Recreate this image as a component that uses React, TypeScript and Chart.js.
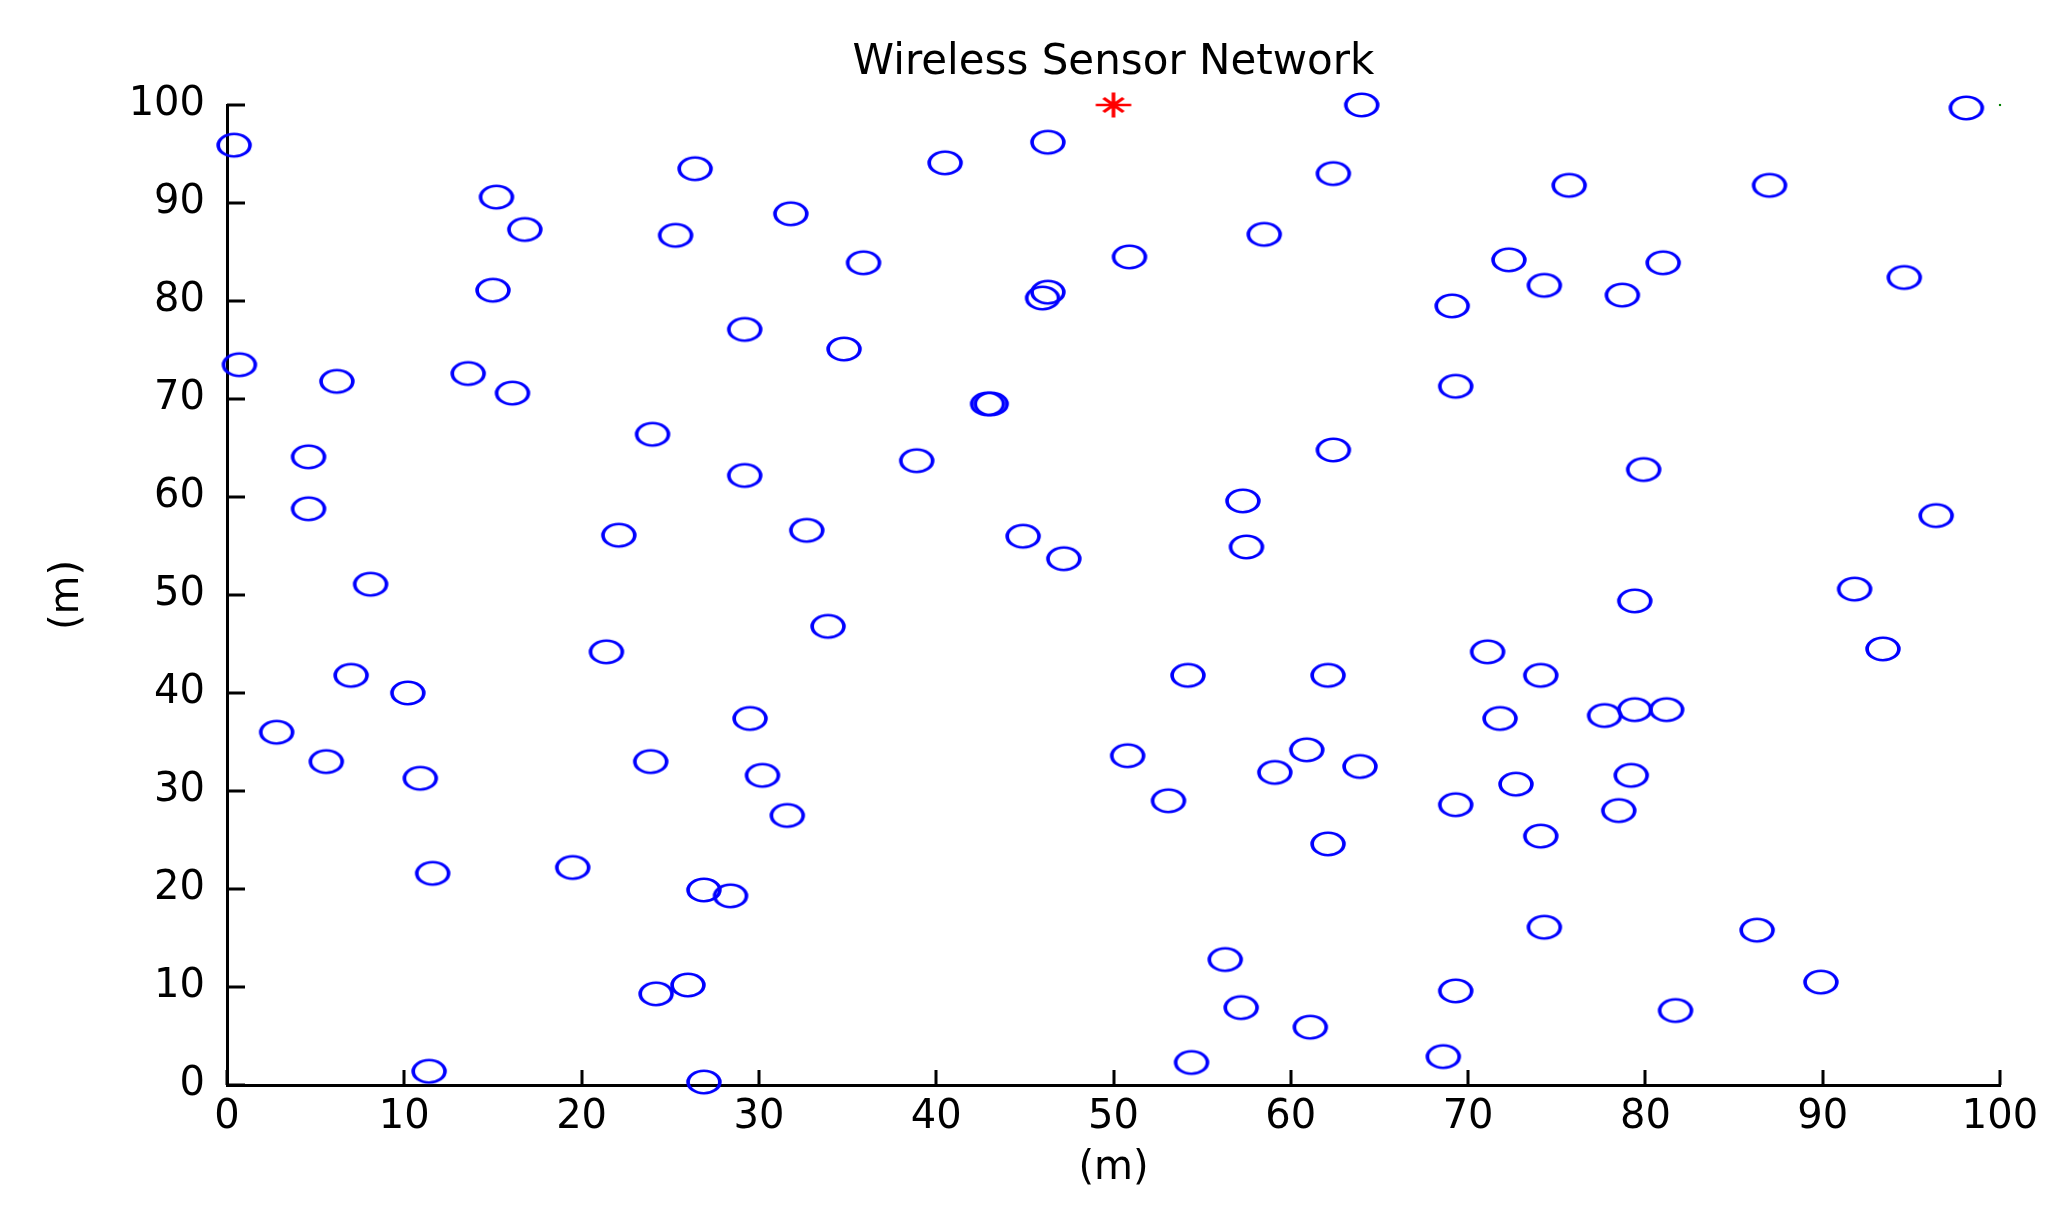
import React, { useEffect, useRef } from "react";
import { Chart, registerables } from "chart.js";

Chart.register(...registerables);

// ---- data ----
const TITLE = "Wireless Sensor Network";
const X_LABEL = "(m)";
const Y_LABEL = "(m)";

const nodeX = [
  0.4, 15.2, 16.8, 25.3, 26.4, 15.0, 0.7, 6.2, 13.6, 16.1,
  24.0, 4.6, 4.6, 22.1, 8.1, 40.5, 46.3, 64.0, 62.4, 31.8,
  58.5, 35.9, 50.9, 46.3, 46.0, 29.2, 34.8, 42.9, 43.1, 62.4,
  38.9, 29.2, 32.7, 57.3, 44.9, 47.2, 57.5, 98.1, 75.7, 87.0,
  72.3, 81.0, 74.3, 78.7, 94.6, 69.1, 69.3, 79.9, 96.4, 21.4,
  7.0, 10.2, 2.8, 5.6, 23.9, 10.9, 11.6, 19.5, 24.2, 26.0,
  11.4, 33.9, 54.2, 62.1, 29.5, 30.2, 31.6, 50.8, 53.1, 60.9,
  59.1, 63.9, 62.1, 26.9, 28.4, 26.9, 56.3, 57.2, 61.1, 54.4,
  91.8, 79.4, 93.4, 71.1, 74.1, 71.8, 77.7, 79.4, 81.2, 72.7,
  79.2, 69.3, 78.5, 74.1, 74.3, 86.3, 89.9, 69.3, 81.7, 68.6,
];
const nodeY = [
  95.9, 90.6, 87.3, 86.7, 93.5, 81.1, 73.5, 71.8, 72.6, 70.6,
  66.4, 64.1, 58.8, 56.1, 51.1, 94.1, 96.2, 100.0, 93.0, 88.9,
  86.8, 83.9, 84.5, 80.9, 80.3, 77.1, 75.1, 69.5, 69.5, 64.8,
  63.7, 62.2, 56.6, 59.6, 56.0, 53.7, 54.9, 99.7, 91.8, 91.8,
  84.2, 83.9, 81.6, 80.6, 82.4, 79.5, 71.3, 62.8, 58.1, 44.2,
  41.8, 40.0, 36.0, 33.0, 33.0, 31.3, 21.6, 22.2, 9.3, 10.2,
  1.4, 46.8, 41.8, 41.8, 37.4, 31.6, 27.5, 33.6, 29.0, 34.2,
  31.9, 32.5, 24.6, 19.9, 19.3, 0.3, 12.8, 7.9, 5.9, 2.3,
  50.6, 49.4, 44.5, 44.2, 41.8, 37.4, 37.7, 38.3, 38.3, 30.7,
  31.6, 28.6, 28.0, 25.4, 16.1, 15.8, 10.5, 9.6, 7.6, 2.9,
];
const sinkX = [50];
const sinkY = [100];
const markX = [100];
const markY = [100];

const AXIS_MIN = 0;
const AXIS_MAX = 100;
const AXIS_STEP = 10;

const FONT = "'DejaVu Sans', 'Liberation Sans', sans-serif";

function toPoints(xs: number[], ys: number[]) {
  return xs.map((x, i) => ({ x, y: ys[i] }));
}

function makeCircleMarker(): HTMLCanvasElement {
  const c = document.createElement("canvas");
  c.width = 40;
  c.height = 30;
  const ctx = c.getContext("2d")!;
  ctx.save();
  ctx.translate(20, 15);
  ctx.scale(1.42, 1);
  ctx.beginPath();
  ctx.arc(0, 0, 11.2, 0, Math.PI * 2);
  ctx.lineWidth = 2.6;
  ctx.strokeStyle = "#0000ff";
  ctx.stroke();
  ctx.restore();
  return c;
}

function makeStarMarker(): HTMLCanvasElement {
  const c = document.createElement("canvas");
  c.width = 40;
  c.height = 30;
  const ctx = c.getContext("2d")!;
  ctx.save();
  ctx.translate(20, 15);
  ctx.scale(1.42, 1);
  ctx.strokeStyle = "#ff0000";
  ctx.lineWidth = 2.6;
  ctx.beginPath();
  ctx.moveTo(-12.5, 0);
  ctx.lineTo(12.5, 0);
  ctx.moveTo(0, -12.5);
  ctx.lineTo(0, 12.5);
  ctx.moveTo(-7, -7);
  ctx.lineTo(7, 7);
  ctx.moveTo(-7, 7);
  ctx.lineTo(7, -7);
  ctx.stroke();
  ctx.restore();
  return c;
}

const inwardTicks = {
  id: "inwardTicks",
  afterDraw(chart: any) {
    const { ctx, chartArea } = chart;
    const xs = chart.scales.x;
    const ys = chart.scales.y;
    ctx.save();
    ctx.strokeStyle = "#000";
    ctx.lineWidth = 3;
    ctx.beginPath();
    xs.ticks.forEach((t: any) => {
      const px = Math.round(xs.getPixelForValue(t.value));
      ctx.moveTo(px, chartArea.bottom);
      ctx.lineTo(px, chartArea.bottom - 15);
    });
    ys.ticks.forEach((t: any) => {
      const py = Math.round(ys.getPixelForValue(t.value));
      ctx.moveTo(chartArea.left, py);
      ctx.lineTo(chartArea.left + 18, py);
    });
    ctx.stroke();
    ctx.restore();
  },
};

export default function App() {
  const ref = useRef<HTMLCanvasElement | null>(null);

  useEffect(() => {
    if (!ref.current) return;
    const circle = makeCircleMarker();
    const star = makeStarMarker();
    const chart = new Chart(ref.current, {
      type: "scatter",
      data: {
        datasets: [
          {
            label: "nodes",
            data: toPoints(nodeX, nodeY),
            pointStyle: circle as any,
            pointRadius: 12,
            clip: false as any,
          },
          {
            label: "sink",
            data: toPoints(sinkX, sinkY),
            pointStyle: star as any,
            pointRadius: 12,
            clip: false as any,
          },
          {
            label: "mark",
            data: toPoints(markX, markY),
            pointStyle: "rect",
            pointRadius: 1.5,
            backgroundColor: "#008000",
            borderColor: "#008000",
            borderWidth: 0,
            clip: false as any,
          },
        ],
      },
      options: {
        responsive: false,
        animation: false,
        devicePixelRatio: 1,
        events: [],
        layout: { padding: { left: 0, right: 71, top: 0, bottom: 0 } },
        plugins: {
          legend: { display: false },
          tooltip: { enabled: false },
          title: {
            display: true,
            text: TITLE,
            fullSize: false,
            color: "#000",
            font: { family: FONT, size: 42, weight: "normal" as any, lineHeight: 1.2 },
            padding: { top: 38, bottom: 16.6 },
          },
        },
        scales: {
          x: {
            type: "linear",
            min: AXIS_MIN,
            max: AXIS_MAX,
            grid: { display: true, drawOnChartArea: false, drawTicks: false },
            border: { display: true, color: "#000", width: 3 },
            ticks: {
              stepSize: AXIS_STEP,
              color: "#000",
              padding: 9,
              maxRotation: 0,
              font: { family: FONT, size: 40, lineHeight: 1.2 },
            },
            title: {
              display: true,
              text: X_LABEL,
              color: "#000",
              font: { family: FONT, size: 40, lineHeight: 1.2 },
              padding: { top: 0, bottom: 31 },
            },
            afterFit(scale: any) {
              scale.height = 139;
            },
          },
          y: {
            type: "linear",
            min: AXIS_MIN,
            max: AXIS_MAX,
            grid: { display: true, drawOnChartArea: false, drawTicks: false },
            border: { display: true, color: "#000", width: 3 },
            ticks: {
              stepSize: AXIS_STEP,
              color: "#000",
              padding: 22,
              font: { family: FONT, size: 40, lineHeight: 1.2 },
            },
            title: {
              display: true,
              text: Y_LABEL,
              color: "#000",
              font: { family: FONT, size: 40, lineHeight: 1.2 },
              padding: { top: 44, bottom: 0 },
            },
            afterFit(scale: any) {
              scale.width = 227;
            },
          },
        },
      },
      plugins: [inwardTicks],
    });
    return () => chart.destroy();
  }, []);

  return (
    <div style={{ position: "absolute", left: 0, top: 0, width: 2071, height: 1224, background: "#fff" }}>
      <canvas ref={ref} width={2071} height={1224} style={{ display: "block" }} />
    </div>
  );
}
